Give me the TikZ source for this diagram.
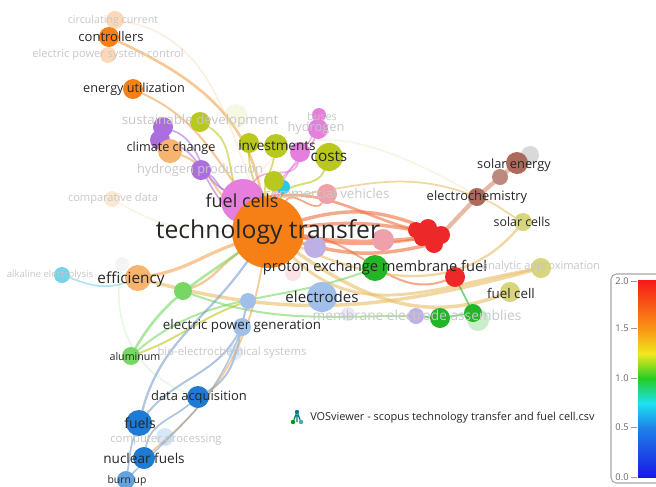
\documentclass[tikz,border=0pt]{standalone}
\usepackage{fontspec}
\setmainfont{Open Sans}
\pgfdeclarelayer{edges}
\pgfsetlayers{edges,main}
\definecolor{cOr}{RGB}{246,128,22}
\definecolor{cPink}{RGB}{229,126,220}
\definecolor{cGreen}{RGB}{34,181,38}
\definecolor{cLBlue}{RGB}{160,192,235}
\definecolor{cRed}{RGB}{236,40,40}
\definecolor{cBrown}{RGB}{172,106,92}
\definecolor{cPale}{RGB}{215,213,125}
\definecolor{cYG}{RGB}{185,200,30}
\definecolor{cPurple}{RGB}{170,110,222}
\definecolor{cLOr}{RGB}{246,180,110}
\definecolor{cLGreen}{RGB}{120,215,100}
\definecolor{cBlue}{RGB}{30,122,210}
\definecolor{cCyan}{RGB}{120,210,232}
\definecolor{cCyan2}{RGB}{40,200,230}
\definecolor{cRose}{RGB}{240,160,170}
\definecolor{cLPurple}{RGB}{190,176,230}
\definecolor{eOr}{RGB}{242,165,80}
\definecolor{eRed}{RGB}{240,110,60}
\definecolor{eBr}{RGB}{215,140,110}
\definecolor{eY}{RGB}{232,190,100}
\definecolor{eBl}{RGB}{120,160,205}
\definecolor{vb0}{RGB}{25,25,230}
\definecolor{vb1}{RGB}{30,130,232}
\definecolor{vb2}{RGB}{30,225,240}
\definecolor{vb3}{RGB}{35,205,35}
\definecolor{vb4}{RGB}{240,232,30}
\definecolor{vb5}{RGB}{250,150,20}
\definecolor{vb6}{RGB}{245,25,25}
\pgfdeclareverticalshading{vos}{100bp}{color(0bp)=(vb0); color(25bp)=(vb0); color(37.5bp)=(vb1); color(43.75bp)=(vb2); color(50bp)=(vb3); color(56.25bp)=(vb4); color(62.5bp)=(vb5); color(75bp)=(vb6); color(100bp)=(vb6)}
\tikzset{
  bub/.style 2 args={circle,inner sep=0pt,minimum size=#2*1.5pt,fill=#1,draw=none},
  fb/.style={fill opacity=.3},
  lab/.style={font=\fontsize{#1}{#1}\selectfont,text=black!85,inner sep=0pt},
  faint/.style={font=\fontsize{#1}{#1}\selectfont,text=black!22,inner sep=0pt},
  ed/.style 2 args={draw=#1,line width=#2,draw opacity=.6,line cap=round},
  fed/.style 2 args={draw=#1,line width=#2,draw opacity=.18,line cap=round},
  tick/.style={font=\fontsize{7}{7}\selectfont,text=black!60,inner sep=0pt}
}
\begin{document}
\begin{tikzpicture}[x=0.75pt,y=-0.75pt]
\clip (0,0) rectangle (656,486);
% ---------- bubbles ----------
\node[bub={cLBlue}{15}] (elec) at (322,297) {};
\node[bub={cGreen}{13}] (pem) at (375,268) {};
\node[bub={cLPurple}{11}] (lpur) at (315,247) {};
\node[bub={cRose}{11}] (pink1) at (383,240) {};
\node[bub={cRose}{8},fb] (pink2) at (293,273) {};
\node[bub={cRed}{9}] (red1) at (428,228) {};
\node[bub={cRed}{9}] (red2) at (441,235) {};
\node[bub={cRed}{8}] (red3) at (422,238) {};
\node[bub={cRed}{9}] (red4) at (434,244) {};
\node[bub={cRed}{8}] (red5) at (416,230) {};
\node[bub={cRed}{10}] (red6) at (455,277) {};
\node[bub={cBrown}{9}] (echem) at (477,197) {};
\node[bub={cBrown!80}{8}] (brown2) at (500,177) {};
\node[bub={black!15}{9}] (gray1) at (530,155) {};
\node[bub={cBrown}{11}] (solar) at (517,163) {};
\node[bub={cPale}{9}] (scells) at (523,222) {};
\node[bub={cPale}{10}] (analytic) at (541,268) {};
\node[bub={cPale}{10}] (fuelcell) at (510,292) {};
\node[bub={cLPurple}{7},fb] (mea1) at (348,314) {};
\node[bub={cLPurple}{8}] (mea2) at (416,316) {};
\node[bub={cGreen}{10}] (mea3) at (440,318) {};
\node[bub={cGreen!80}{11},fb] (mea5) at (478,320) {};
\node[bub={cGreen}{9}] (mea4) at (473,313) {};
\node[bub={cLGreen}{9}] (greenL) at (183,291) {};
\node[bub={cLBlue}{8}] (lblue1) at (248,301) {};
\node[bub={cLBlue}{9}] (epg) at (242,327) {};
\node[bub={cLBlue}{8},fb] (bio) at (235,352) {};
\node[bub={cLGreen}{9}] (alum) at (131,356) {};
\node[bub={cBlue}{11}] (dacq) at (198,397) {};
\node[bub={cBlue}{13}] (fuels) at (139,423) {};
\node[bub={cBlue!60}{9},fb] (cproc) at (165,437) {};
\node[bub={cBlue}{11}] (nfuels) at (144,458) {};
\node[bub={cBlue!70}{9}] (burn) at (126,480) {};
\node[bub={black!15}{7},fb] (effg) at (122,264) {};
\node[bub={cLOr}{13}] (eff) at (138,278) {};
\node[bub={cCyan}{8}] (alk) at (62,275) {};
\node[bub={cLOr}{8},fb] (comp) at (112,199) {};
\node[bub={cPurple}{10}] (pur1) at (163,127) {};
\node[bub={cPurple}{10}] (pur2) at (160,140) {};
\node[bub={cLOr}{12}] (climate) at (170,151) {};
\node[bub={cPurple}{10}] (hprod) at (201,170) {};
\node[bub={cYG!40}{12},fb] (sdev2) at (236,116) {};
\node[bub={cYG}{10}] (sdev) at (200,122) {};
\node[bub={cYG}{10}] (inv2) at (249,143) {};
\node[bub={cYG}{12}] (inv) at (276,146) {};
\node[bub={cPink}{7}] (buses) at (319,115) {};
\node[bub={cPink}{10}] (hyd) at (318,129) {};
\node[bub={cPink}{10}] (pink3) at (300,152) {};
\node[bub={cYG}{14}] (costs) at (329,157) {};
\node[bub={cRose}{10}] (cv) at (327,194) {};
\node[bub={cCyan2}{7}] (cyan1) at (283,187) {};
\node[bub={cYG}{10}] (yg5) at (274,181) {};
\node[bub={cOr}{10}] (eu) at (133,89) {};
\node[bub={cOr}{9},fb] (ctrlf1) at (115,20) {};
\node[bub={cOr}{8},fb] (ctrlf2) at (108,55) {};
\node[bub={cOr}{10}] (ctrl) at (109,37) {};
\node[bub={cPink}{22}] (fc) at (243,201) {};
\node[bub={cOr}{36}] (tt) at (268,232) {};
% ---------- edges ----------
\begin{pgfonlayer}{edges}
\draw[ed={eOr}{2pt}] (tt) to[out=100,in=-25] (ctrl);
\draw[ed={eOr}{1.5pt}] (tt) to[out=125,in=-25] (eu);
\draw[ed={cYG}{1.3pt}] (tt) to[out=130,in=-30] (sdev);
\draw[ed={eOr}{1.5pt}] (tt) to[out=145,in=-20] (climate);
\draw[ed={cPurple}{1.2pt}] (tt) to[out=150,in=-15] (pur2);
\draw[ed={cPurple}{1.2pt}] (fc) to[out=150,in=-20] (pur1);
\draw[ed={cPurple}{1.2pt}] (fc) to[out=150,in=-30] (hprod);
\draw[ed={cYG}{1.3pt}] (tt) to[out=105,in=-90] (inv2);
\draw[ed={cYG}{1.3pt}] (tt) to[out=95,in=-100] (inv);
\draw[ed={cYG}{1.5pt}] (tt) to[out=70,in=-110] (costs);
\draw[ed={cPink}{1.3pt}] (tt) to[out=80,in=-110] (hyd);
\draw[ed={cPink}{1.0pt}] (tt) to[out=75,in=-105] (buses);
\draw[ed={cPink}{1.3pt}] (fc) to[out=60,in=-100] (pink3);
\draw[ed={eRed}{1.3pt}] (tt) to[out=60,in=-120] (cv);
\draw[ed={cYG}{1.3pt}] (tt) -- (yg5);
\draw[ed={eRed}{2.6pt}] (tt) to[bend left=18] (red1);
\draw[ed={eRed}{2.6pt}] (tt) to[bend left=8] (red5);
\draw[ed={eRed}{2.6pt}] (tt) to[bend right=6] (red3);
\draw[ed={eRed}{2.6pt}] (tt) to[bend right=14] (red4);
\draw[ed={eRed}{2pt}] (fc) to[out=10,in=170] (red2);
\draw[ed={eRed}{1.8pt}] (tt) to[out=-10,in=190] (red2);
\draw[ed={eRed}{1.5pt}] (tt) to[out=-5,in=200] (red6);
\draw[ed={eBr}{3.2pt}] (red2) -- (echem);
\draw[ed={eBr}{3.2pt}] (echem) -- (brown2);
\draw[ed={eBr}{3.2pt}] (brown2) -- (solar);
\draw[ed={eY}{1.3pt}] (fc) to[out=5,in=160] (echem);
\draw[ed={eY}{1.0pt}] (echem) to[out=-20,in=150] (scells);
\draw[ed={eY}{1.8pt}] (tt) to[out=-25,in=230] (scells);
\draw[ed={eY}{2.6pt}] (eff) to[out=-15,in=195] (analytic);
\draw[ed={eY}{2.6pt}] (tt) to[out=-35,in=200] (fuelcell);
\draw[ed={eY}{2.2pt}] (tt) to[out=-45,in=190] (analytic);
\draw[ed={cGreen}{1.3pt}] (red6) -- (mea4);
\draw[ed={cGreen}{1.3pt}] (mea2) -- (mea3) -- (mea4);
\draw[ed={cLGreen}{1.5pt}] (greenL) to[out=-20,in=180] (mea2);
\draw[ed={eOr}{2.4pt}] (tt) to[out=200,in=10] (eff);
\draw[ed={eOr}{1.8pt}] (tt) to[out=215,in=20] (greenL);
\draw[ed={cLGreen}{2pt}] (alum) to[out=60,in=215] (tt);
\draw[ed={cLGreen}{1.5pt}] (alum) to[out=40,in=200] (pem);
\draw[ed={cYG}{1.5pt}] (alum) to[out=20,in=200] (lblue1);
\draw[ed={cCyan}{1.2pt}] (alk) to[out=-20,in=200] (eff);
\draw[ed={eBl}{1.7pt}] (fuels) to[out=75,in=235] (tt);
\draw[ed={eBl}{1.5pt}] (fuels) to[out=50,in=240] (epg);
\draw[ed={eBl}{1.5pt}] (dacq) to[out=30,in=255] (lblue1);
\draw[ed={eBl}{1.3pt}] (nfuels) to[out=80,in=220] (dacq);
\draw[ed={eBl}{1.3pt}] (burn) to[out=80,in=250] (fuels);
\draw[ed={eOr}{1.3pt}] (nfuels) to[out=40,in=260] (tt);
\draw[ed={eBl}{1.1pt}] (burn) to[out=45,in=250] (epg);
\draw[fed={eY}{1.2pt}] (fc) to[out=60,in=150] (scells);
\draw[fed={cLGreen}{1.2pt}] (effg) to[out=-100,in=160] (dacq);
\draw[fed={eY}{1.2pt}] (comp) to[out=-30,in=180] (tt);
\draw[fed={eOr}{1.2pt}] (ctrlf1) to[out=-10,in=110] (tt);
\end{pgfonlayer}
% ---------- labels ----------
\node[faint=8] (ctrlf1L) at (113,21) {circulating current};
\node[faint=8.3] (ctrlf2L) at (108,55) {electric power system control};
\node[lab=9.8] (ctrlL) at (111,37) {controllers};
\node[lab=9.5] (euL) at (134,89) {energy utilization};
\node[faint=10] (sdevL) at (200,121) {sustainable development};
\node[faint=8] (busesL) at (322,116) {buses};
\node[faint=9.6] (hydL) at (316,128) {hydrogen};
\node[lab=9.5] (climateL) at (171,148) {climate change};
\node[lab=10.2] (invL) at (277,146) {investments};
\node[lab=11.5] (costsL) at (329,157) {costs};
\node[faint=9.6] (hprodL) at (200,170) {hydrogen production};
\node[faint=10] (cvL) at (327,193) {commercial vehicles};
\node[faint=8.3] (compL) at (113,199) {comparative data};
\node[lab=13.5] (fcL) at (242,201) {fuel cells};
\node[lab=18.5] (ttL) at (268,232) {technology transfer};
\node[lab=9.6] (solarL) at (514,165) {solar energy};
\node[lab=9.7] (echemL) at (477,197) {electrochemistry};
\node[lab=9.3] (scellsL) at (522,222) {solar cells};
\node[faint=7.2] (alkL) at (50,275) {alkaline electrolysis};
\node[lab=11.5] (effL) at (131,279) {efficiency};
\node[lab=11] (pemL) at (375,268) {proton exchange membrane fuel};
\node[faint=8.3] (analyticL) at (541,267) {analytic approximation};
\node[lab=10] (fuelcellL) at (511,293) {fuel cell};
\node[lab=11.3] (elecL) at (322,297) {electrodes};
\node[faint=10.3] (meaL) at (417,315) {membrane electrode assemblies};
\node[lab=10] (epgL) at (242,326) {electric power generation};
\node[faint=8.5] (bioL) at (232,353) {bio-electrochemical systems};
\node[lab=8] (alumL) at (135,356) {aluminum};
\node[lab=9.7] (dacqL) at (199,397) {data acquisition};
\node[lab=10.5] (fuelsL) at (140,423) {fuels};
\node[faint=8.5] (cprocL) at (166,440) {computer processing};
\node[lab=10.2] (nfuelsL) at (144,458) {nuclear fuels};
\node[lab=7.8] (burnL) at (127,481) {burn up};
% ---------- footer ----------
\begin{scope}[shift={(297,418)}]
\node[bub={teal}{2.2}] (lg1) at (0,-6) {};
\node[bub={green!60!black}{2.2}] (lg2) at (-4,4) {};
\node[bub={teal!70}{2.2}] (lg3) at (4,4) {};
\draw[teal,line width=1pt] (lg2) -- (lg1) -- (lg3) (lg1) -- (0,4);
\end{scope}
\node[font=\fontsize{8.2}{8.2}\selectfont,text=black!85,anchor=west,inner sep=0pt] (foot) at (310,418) {VOSviewer - scopus technology transfer and fuel cell.csv};
% ---------- colour bar ----------
\draw[rounded corners=4pt,draw=black!35,fill=white,line width=0.8pt] (611,274) rectangle (680,483);
\shade[shading=vos] (638,280) rectangle (670,477);
\foreach \v/\yy in {2.0/281,1.5/328,1.0/378,0.5/427,0.0/477}{
  \node[tick] (t\v) at (622,\yy) {\v};
  \draw[black!40,line width=0.5pt] (631,\yy) -- (637,\yy);
}
\end{tikzpicture}
\end{document}
